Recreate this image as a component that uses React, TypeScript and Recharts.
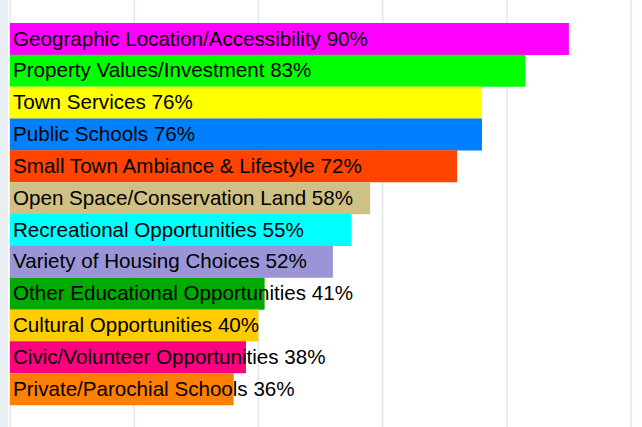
import React from "react";
import { BarChart, Bar, XAxis, YAxis, Cell, LabelList, ReferenceLine } from "recharts";

const categories = [
  "Geographic Location/Accessibility",
  "Property Values/Investment",
  "Town Services",
  "Public Schools",
  "Small Town Ambiance & Lifestyle",
  "Open Space/Conservation Land",
  "Recreational Opportunities",
  "Variety of Housing Choices",
  "Other Educational Opportunities",
  "Cultural Opportunities",
  "Civic/Volunteer Opportunities",
  "Private/Parochial Schools",
];
const values = [90, 83, 76, 76, 72, 58, 55, 52, 41, 40, 38, 36];
const colors = [
  "#ff00ff",
  "#00ff00",
  "#ffff00",
  "#0080ff",
  "#ff4400",
  "#cfc185",
  "#00ffff",
  "#9995d6",
  "#00aa00",
  "#ffcc00",
  "#ff0080",
  "#ff8000",
];
const xTicks = [0, 20, 40, 60, 80, 100];

const data = categories.map((name, i) => ({
  name,
  value: values[i],
  label: `${name} ${values[i]}%`,
}));

const W = 642;
const H = 427;
const FONT = "'Liberation Sans', Arial, sans-serif";

const renderLabel = (props: any) => {
  const { x, y, height, value } = props;
  return (
    <text
      x={Number(x) + 3}
      y={Number(y) + Number(height) / 2 + 6.5}
      fontSize={20.6}
      fontFamily={FONT}
      fill="#000"
    >
      {value}
    </text>
  );
};

export default function App() {
  return (
    <div style={{ position: "absolute", left: 0, top: 0, width: W, height: H, background: "#fff", overflow: "hidden" }}>
      <div style={{ position: "absolute", left: 0, top: 0, width: 8, height: H, background: "#e8eef1" }} />
      <div style={{ position: "absolute", left: 0, top: 0 }}>
        <BarChart width={W} height={H} layout="vertical" data={data} margin={{ top: 0, right: 11, bottom: 0, left: 10 }}>
          <XAxis type="number" domain={[0, 100]} ticks={xTicks} hide />
          <YAxis type="category" dataKey="name" hide />
          {xTicks.map((t) => (
            <ReferenceLine key={t} x={t} stroke="#e0e8ec" strokeWidth={1.5} />
          ))}
          <Bar dataKey="value" fill="transparent" isAnimationActive={false} />
        </BarChart>
      </div>
      <div style={{ position: "absolute", left: 0, top: 0 }}>
        <BarChart
          width={W}
          height={H}
          layout="vertical"
          data={data}
          margin={{ top: 23, right: 11, bottom: 22, left: 10 }}
          barCategoryGap={0}
        >
          <XAxis type="number" domain={[0, 100]} ticks={xTicks} hide />
          <YAxis
            type="category"
            dataKey="name"
            width={0}
            tick={false}
            tickLine={false}
            axisLine={{ stroke: "#3c3c3c", strokeWidth: 2 }}
          />
          <Bar dataKey="value" isAnimationActive={false}>
            {data.map((d, i) => (
              <Cell key={d.name} fill={colors[i]} />
            ))}
            <LabelList dataKey="label" content={renderLabel} />
          </Bar>
        </BarChart>
      </div>
    </div>
  );
}
